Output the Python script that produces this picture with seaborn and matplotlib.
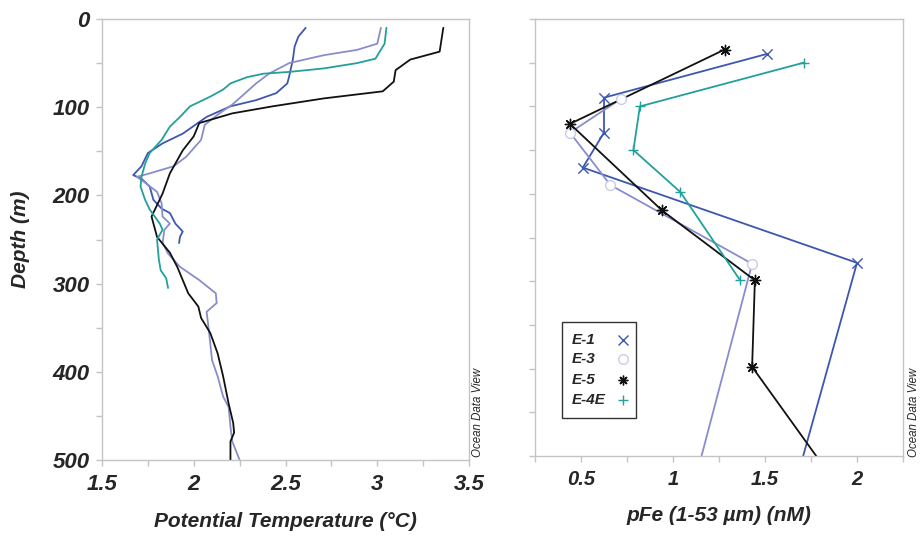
import seaborn as sns
import matplotlib.pyplot as plt
import pandas as pd
from matplotlib.patches import Rectangle

stations = ['E-1', 'E-3', 'E-5', 'E-4E']
colors = {'E-1': '#3d57b0', 'E-3': '#8a8dcc', 'E-5': '#111111', 'E-4E': '#22a09b'}

# potential temperature profiles
e1_depth = [10, 20, 31, 46, 65, 73, 84, 92, 99, 111, 130, 141, 152, 167, 177, 181, 190, 205, 215, 220, 232, 241, 247, 254]
e1_temp = [2.61, 2.57, 2.55, 2.54, 2.52, 2.51, 2.45, 2.34, 2.20, 2.07, 1.94, 1.83, 1.75, 1.715, 1.67, 1.715, 1.76, 1.78, 1.825, 1.87, 1.90, 1.94, 1.925, 1.92]

e3_depth = [10, 28, 35, 41, 50, 62, 73, 86, 97, 107, 120, 137, 156, 167, 175, 179, 184, 196, 209, 224, 232, 239, 254, 266, 281, 296, 311, 322, 332, 349, 387, 405, 428, 440, 462, 479, 500]
e3_temp = [3.02, 3.00, 2.89, 2.71, 2.52, 2.41, 2.34, 2.27, 2.21, 2.14, 2.06, 2.04, 1.96, 1.89, 1.76, 1.69, 1.725, 1.80, 1.825, 1.83, 1.87, 1.84, 1.83, 1.86, 1.925, 2.03, 2.12, 2.125, 2.07, 2.08, 2.10, 2.13, 2.16, 2.19, 2.20, 2.21, 2.25]

e5_depth = [10, 37, 46, 58, 71, 82, 90, 99, 107, 118, 133, 149, 175, 198, 224, 247, 265, 281, 311, 326, 339, 356, 379, 405, 436, 458, 469, 479, 500]
e5_temp = [3.36, 3.34, 3.18, 3.10, 3.09, 3.03, 2.71, 2.43, 2.21, 2.03, 2.00, 1.94, 1.87, 1.83, 1.77, 1.80, 1.87, 1.91, 1.97, 2.025, 2.04, 2.09, 2.13, 2.16, 2.19, 2.215, 2.22, 2.20, 2.20]

e4e_depth = [10, 28, 45, 50, 56, 60, 62, 66, 73, 80, 88, 99, 111, 122, 137, 152, 164, 179, 190, 205, 216, 232, 239, 250, 273, 285, 294, 305]
e4e_temp = [3.05, 3.04, 2.99, 2.89, 2.71, 2.52, 2.38, 2.29, 2.20, 2.16, 2.09, 1.98, 1.925, 1.87, 1.825, 1.76, 1.735, 1.715, 1.71, 1.735, 1.76, 1.815, 1.83, 1.80, 1.81, 1.82, 1.85, 1.86]

# particulate iron (1-53 um)
e1_fe_depth = [40, 90, 130, 170, 279, 600]
e1_fe = [1.51, 0.625, 0.625, 0.51, 2.0, 1.575]
e3_fe_depth = [91, 130, 190, 280, 600]
e3_fe = [0.72, 0.44, 0.66, 1.43, 1.03]
e5_fe_depth = [35, 120, 219, 299, 398, 600]
e5_fe = [1.28, 0.44, 0.94, 1.445, 1.43, 2.12]
e4e_fe_depth = [50, 100, 150, 198, 299]
e4e_fe = [1.71, 0.82, 0.785, 1.04, 1.365]

temp = pd.concat([
    pd.DataFrame({'station': s, 'depth': d, 'temp': t})
    for s, d, t in [('E-1', e1_depth, e1_temp), ('E-3', e3_depth, e3_temp),
                    ('E-5', e5_depth, e5_temp), ('E-4E', e4e_depth, e4e_temp)]
])
fe = pd.concat([
    pd.DataFrame({'station': s, 'depth': d, 'pfe': v})
    for s, d, v in [('E-1', e1_fe_depth, e1_fe), ('E-3', e3_fe_depth, e3_fe),
                    ('E-5', e5_fe_depth, e5_fe), ('E-4E', e4e_fe_depth, e4e_fe)]
])

sns.set_style('white')
plt.rcParams['font.family'] = ['Liberation Sans', 'DejaVu Sans']
grey = '#c4c4c4'

fig = plt.figure(figsize=(9.22, 5.4), dpi=100)
ax1 = fig.add_axes([102 / 922, 80 / 540, 367 / 922, 441 / 540])
ax2 = fig.add_axes([535 / 922, 84 / 540, 368 / 922, 437 / 540])

sns.lineplot(data=temp, x='temp', y='depth', hue='station', palette=colors,
             sort=False, estimator=None, lw=1.3, legend=False, ax=ax1)

sns.lineplot(data=fe, x='pfe', y='depth', hue='station', palette=colors,
             sort=False, estimator=None, lw=1.3, legend=False, ax=ax2)

markers = {'E-1': 'x', 'E-3': 'o', 'E-5': (8, 2, 0), 'E-4E': '+'}
mface = {'E-1': colors['E-1'], 'E-3': 'white', 'E-5': colors['E-5'], 'E-4E': colors['E-4E']}
medge = {'E-1': colors['E-1'], 'E-3': '#c9cbe9', 'E-5': colors['E-5'], 'E-4E': colors['E-4E']}
for s in stations:
    sub = fe[fe.station == s]
    if s == 'E-3':
        ax2.scatter(sub.pfe, sub.depth, marker='o', s=50, facecolors='white',
                    edgecolors=medge[s], linewidths=1.0, zorder=3)
    else:
        ax2.scatter(sub.pfe, sub.depth, marker=markers[s], s=55, color=colors[s],
                    linewidths=1.0, zorder=3)

ax1.set_xlim(1.5, 3.5)
ax1.set_ylim(500, 0)
ax2.set_xlim(0.25, 2.25)
ax2.set_ylim(500, 0)

ax1.set_xticks([1.5, 2, 2.5, 3, 3.5])
ax1.set_xticklabels(['1.5', '2', '2.5', '3', '3.5'])
ax1.set_xticks([1.75, 2.25, 2.75, 3.25], minor=True)
ax1.set_yticks([0, 100, 200, 300, 400, 500])
ax1.set_yticks([50, 150, 250, 350, 450], minor=True)

ax2.set_xticks([0.5, 1, 1.5, 2])
ax2.set_xticklabels(['0.5', '1', '1.5', '2'])
ax2.set_xticks([0.25, 0.75, 1.25, 1.75, 2.25], minor=True)
ax2.set_yticks([0, 100, 200, 300, 400, 500])
ax2.set_yticks([50, 150, 250, 350, 450], minor=True)
ax2.set_yticklabels([])

for ax, fs in [(ax1, 16), (ax2, 14.5)]:
    for sp in ax.spines.values():
        sp.set_color(grey)
        sp.set_linewidth(1.0)
    ax.tick_params(which='both', direction='out', color=grey, length=4, width=1.0,
                   bottom=True, left=True)
    ax.tick_params(axis='x', pad=6)
    ax.tick_params(axis='y', pad=5)
    for lab in ax.get_xticklabels() + ax.get_yticklabels():
        lab.set_fontsize(fs)
        lab.set_fontweight('bold')
        lab.set_fontstyle('italic')

ax1.set_xlabel('Potential Temperature (°C)', fontsize=15, fontweight='bold', style='italic', labelpad=12)
ax1.set_ylabel('Depth (m)', fontsize=15, fontweight='bold', style='italic', labelpad=16)
ax2.set_xlabel('pFe (1-53 µm) (nM)', fontsize=15, fontweight='bold', style='italic', labelpad=12)
ax2.set_ylabel('')

fig.text(478 / 922, 83 / 540, 'Ocean Data View', rotation=90, fontsize=8.3,
         style='italic', ha='center', va='bottom')
fig.text(914 / 922, 83 / 540, 'Ocean Data View', rotation=90, fontsize=8.3,
         style='italic', ha='center', va='bottom')

# legend box drawn by hand: labels left, markers right
ax2.add_patch(Rectangle((0.073, 0.087), 0.201, 0.22, transform=ax2.transAxes,
                        facecolor='white', edgecolor='#333333', lw=1.0, zorder=5))
leg_y = [0.265, 0.221, 0.174, 0.128]
for s, yy in zip(stations, leg_y):
    ax2.text(0.1, yy, s, transform=ax2.transAxes, fontsize=11, fontweight='bold',
             style='italic', ha='left', va='center', zorder=6)
    ax2.plot([0.24], [yy], transform=ax2.transAxes, ls='none', marker=markers[s],
             markersize=7, markerfacecolor=mface[s], markeredgecolor=medge[s],
             markeredgewidth=1.0, zorder=6)

fig.savefig('out.png', dpi=100)
